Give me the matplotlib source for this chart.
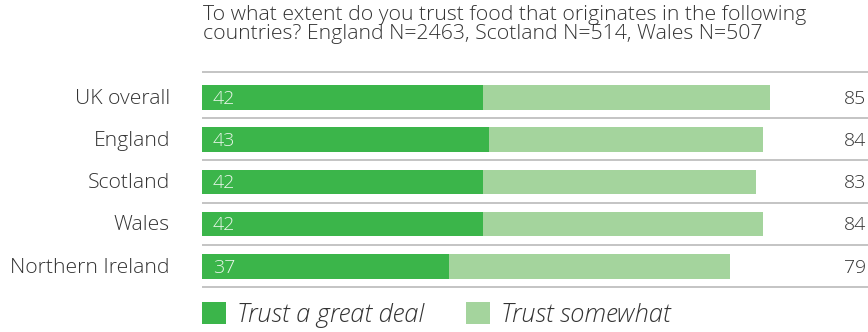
import matplotlib
matplotlib.use("Agg")
import matplotlib.pyplot as plt
from matplotlib.patches import Patch

plt.rcParams['font.family'] = ['Open Sans', 'DejaVu Sans']
plt.rcParams['font.weight'] = 300

# trust in food by country of origin (%)
countries = ["UK overall", "England", "Scotland", "Wales", "Northern Ireland"]
great_deal = [42, 43, 42, 42, 37]
total_trust = [85, 84, 83, 84, 79]
somewhat = [t - g for t, g in zip(total_trust, great_deal)]

title = ("To what extent do you trust food that originates in the following\n"
         "countries? England N=2463, Scotland N=514, Wales N=507")
legend_labels = ["Trust a great deal", "Trust somewhat"]

dark_green = "#3bb54a"
light_green = "#a4d49d"
rule_grey = "#b4b4b4"
text_grey = "#333333"

W, H = 868, 332
fig = plt.figure(figsize=(W / 100, H / 100), dpi=100)

# axes spans from the bar origin to the right edge; 1 unit ~ 6.68 px
ax_left = 202
ax_top = 65.6
ax_h = 5.5 * 42.3
ax = fig.add_axes([ax_left / W, (H - ax_top - ax_h) / H, (W - ax_left) / W, ax_h / H])
ax.set_xlim(0, (W - ax_left) / 6.68)
ax.set_ylim(4.75, -0.75)
ax.axis("off")

ypos = list(range(len(countries)))
ax.barh(ypos, great_deal, height=0.58, color=dark_green, zorder=2)
ax.barh(ypos, somewhat, left=great_deal, height=0.58, color=light_green, zorder=2)

# horizontal rules above the first row and below every row
ax.axhline(-0.59, color=rule_grey, lw=1.1, zorder=1)
for y in ypos:
    ax.axhline(y + 0.49, color=rule_grey, lw=1.1, zorder=1)

for y, name, g, t in zip(ypos, countries, great_deal, total_trust):
    ax.text(1.6, y + 0.03, str(g), color="#eaf6ea", fontsize=14, va="center", ha="left")
    ax.text(-4.8, y + 0.03, name, color=text_grey, fontsize=15.2, va="center", ha="right")
    ax.text(0.997, y + 0.03, str(t), color=text_grey, fontsize=14, va="center", ha="right",
            transform=ax.get_yaxis_transform())

fig.text(203 / W, 1 - 5 / H, title, fontsize=15.3, color=text_grey, va="top", ha="left",
         linespacing=0.92)

handles = [Patch(facecolor=dark_green), Patch(facecolor=light_green)]
leg = fig.legend(handles, legend_labels, loc="center left", ncol=2,
                 bbox_to_anchor=(202 / W, 17 / H), frameon=False,
                 handlelength=0.94, handleheight=0.94, handletextpad=0.43,
                 columnspacing=1.65, borderaxespad=0, borderpad=0,
                 prop={"size": 18.4, "style": "italic", "weight": 300})
for t in leg.get_texts():
    t.set_color(text_grey)

fig.savefig("out.png", dpi=100)
